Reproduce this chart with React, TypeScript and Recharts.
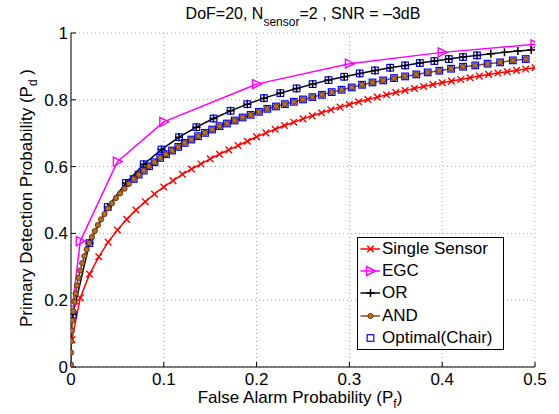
import React from "react";
import {
  ComposedChart,
  Line,
  Scatter,
  XAxis,
  YAxis,
  CartesianGrid,
  Legend,
} from "recharts";

const FONT = "'Liberation Sans', Arial, Helvetica, sans-serif";

const xTicks = [0, 0.1, 0.2, 0.3, 0.4, 0.5];
const yTicks = [0, 0.2, 0.4, 0.6, 0.8, 1];

// single sensor ROC
const singlePf = [
  0.001, 0.01, 0.02, 0.03, 0.04, 0.05, 0.06, 0.07, 0.08, 0.09, 0.1, 0.11, 0.12,
  0.13, 0.14, 0.15, 0.16, 0.17, 0.18, 0.19, 0.2, 0.21, 0.22, 0.23, 0.24, 0.25,
  0.26, 0.27, 0.28, 0.29, 0.3, 0.31, 0.32, 0.33, 0.34, 0.35, 0.36, 0.37, 0.38,
  0.39, 0.4, 0.41, 0.42, 0.43, 0.44, 0.45, 0.46, 0.47, 0.48, 0.49, 0.5,
];
const singlePd = [
  0.082, 0.207, 0.278, 0.33, 0.374, 0.41, 0.442, 0.47, 0.495, 0.518, 0.539,
  0.558, 0.577, 0.593, 0.608, 0.623, 0.637, 0.65, 0.663, 0.676, 0.689, 0.701,
  0.712, 0.723, 0.733, 0.743, 0.752, 0.761, 0.77, 0.778, 0.786, 0.794, 0.801,
  0.808, 0.815, 0.822, 0.828, 0.834, 0.84, 0.846, 0.851, 0.856, 0.861, 0.866,
  0.871, 0.876, 0.88, 0.884, 0.888, 0.892, 0.896,
];

// equal gain combining
const egcPf = [0.002, 0.01, 0.05, 0.1, 0.2, 0.3, 0.4, 0.5];
const egcPd = [0.19, 0.377, 0.615, 0.734, 0.847, 0.908, 0.942, 0.966];

// OR rule
const orPf = [
  0.002, 0.0199, 0.0396, 0.0591, 0.0784, 0.0975, 0.1164, 0.1351, 0.1536, 0.1719,
  0.19, 0.2079, 0.2256, 0.2431, 0.2604, 0.2775, 0.2944, 0.3111, 0.3276, 0.3439,
  0.36, 0.3759, 0.3916, 0.4071, 0.4224, 0.4375, 0.4524, 0.4671, 0.4816, 0.4959,
];
const orPd = [
  0.157, 0.371, 0.479, 0.551, 0.607, 0.651, 0.688, 0.718, 0.744, 0.767, 0.787,
  0.805, 0.82, 0.834, 0.847, 0.859, 0.869, 0.879, 0.888, 0.896, 0.903, 0.91,
  0.916, 0.922, 0.928, 0.933, 0.938, 0.942, 0.946, 0.949,
];

// AND rule
const andPf = [
  0.000001, 0.0001, 0.0004, 0.0009, 0.0016, 0.0025, 0.0036, 0.0049, 0.0064,
  0.0081, 0.01, 0.0121, 0.0144, 0.0169, 0.0196, 0.0225, 0.0256, 0.0289, 0.0324,
  0.0361, 0.04, 0.0441, 0.0484, 0.0529, 0.0576, 0.0625, 0.0676, 0.0729, 0.0784,
  0.0841, 0.09, 0.0961, 0.1024, 0.1089, 0.1156, 0.1225, 0.1296, 0.1369, 0.1444,
  0.1521, 0.16, 0.1681, 0.1764, 0.1849, 0.1936, 0.2025, 0.2116, 0.2209, 0.2304,
  0.2401, 0.25, 0.2601, 0.2704, 0.2809, 0.2916, 0.3025, 0.3136, 0.3249, 0.3364,
  0.3481, 0.36, 0.3721, 0.3844, 0.3969, 0.4096, 0.4225, 0.4356, 0.4489, 0.4624,
  0.4761, 0.49,
];
const andPd = [
  0.007, 0.043, 0.077, 0.109, 0.139, 0.167, 0.195, 0.22, 0.244, 0.267, 0.289,
  0.311, 0.332, 0.352, 0.371, 0.389, 0.407, 0.425, 0.442, 0.458, 0.475, 0.49,
  0.506, 0.52, 0.534, 0.549, 0.563, 0.576, 0.588, 0.601, 0.613, 0.626, 0.637,
  0.648, 0.659, 0.671, 0.681, 0.691, 0.701, 0.711, 0.721, 0.729, 0.738, 0.747,
  0.755, 0.764, 0.773, 0.78, 0.787, 0.794, 0.801, 0.808, 0.815, 0.823, 0.83,
  0.837, 0.845, 0.852, 0.858, 0.865, 0.87, 0.876, 0.882, 0.887, 0.893, 0.899,
  0.903, 0.908, 0.912, 0.918, 0.922,
];

const seriesNames = ["Single Sensor", "EGC", "OR", "AND", "Optimal(Chair)"];

const RED = "#ff0000";
const MAGENTA = "#ff00ff";
const BLACK = "#000000";
const BROWN = "#8c4a12";
const BLUE = "#0000ff";

const toPoints = (xs: number[], ys: number[]) =>
  xs.map((x, i) => ({ x, y: ys[i] }));

const singleData = toPoints(singlePf, singlePd);
const egcData = toPoints(egcPf, egcPd);
const orData = toPoints(orPf, orPd);
const andData = toPoints(andPf, andPd);
// optimal fusion follows OR at low thresholds, then AND
const optimalData = [...orData.slice(0, 26), ...andData.slice(26)];

type Kind = "x" | "tri" | "plus" | "circle" | "square";

function marker(kind: Kind, cx: number, cy: number, key?: string | number) {
  if (cx == null || cy == null || isNaN(cx) || isNaN(cy)) return <g key={key} />;
  if (kind === "x") {
    const s = 3.3;
    return (
      <path
        key={key}
        d={`M${cx - s},${cy - s}L${cx + s},${cy + s}M${cx - s},${cy + s}L${cx + s},${cy - s}`}
        stroke={RED}
        strokeWidth={1.4}
        fill="none"
      />
    );
  }
  if (kind === "tri") {
    return (
      <polygon
        key={key}
        points={`${cx - 4},${cy - 4.5} ${cx - 4},${cy + 4.5} ${cx + 5},${cy}`}
        stroke={MAGENTA}
        strokeWidth={1.4}
        fill="none"
      />
    );
  }
  if (kind === "plus") {
    const s = 4;
    return (
      <path
        key={key}
        d={`M${cx - s},${cy}L${cx + s},${cy}M${cx},${cy - s}L${cx},${cy + s}`}
        stroke={BLACK}
        strokeWidth={1.5}
        fill="none"
      />
    );
  }
  if (kind === "circle") {
    return (
      <circle key={key} cx={cx} cy={cy} r={2.6} fill="#b0702e" stroke="#6e3608" strokeWidth={1} />
    );
  }
  return (
    <rect
      key={key}
      x={cx - 3.3}
      y={cy - 3.3}
      width={6.6}
      height={6.6}
      stroke={BLUE}
      strokeWidth={1.2}
      fill="none"
    />
  );
}

const dotOf = (kind: Kind) => (p: any) => marker(kind, p.cx, p.cy, `${kind}-${p.index}`);

const legendEntries: { name: string; kind: Kind; color: string | null }[] = [
  { name: seriesNames[0], kind: "x", color: RED },
  { name: seriesNames[1], kind: "tri", color: MAGENTA },
  { name: seriesNames[2], kind: "plus", color: BLACK },
  { name: seriesNames[3], kind: "circle", color: BROWN },
  { name: seriesNames[4], kind: "square", color: null },
];

function LegendBox() {
  return (
    <div
      style={{
        width: 145,
        height: 111,
        border: "1px solid #000",
        background: "#fff",
        fontFamily: FONT,
        fontSize: 17,
        color: "#000",
      }}
    >
      {legendEntries.map((e) => (
        <div
          key={e.name}
          style={{ display: "flex", alignItems: "center", height: 22.2 }}
        >
          <svg width={24} height={22} style={{ flex: "none" }}>
            {e.color && (
              <line x1={2.5} y1={11} x2={22} y2={11} stroke={e.color} strokeWidth={1.5} />
            )}
            {marker(e.kind, 12.5, 11)}
          </svg>
          <span style={{ whiteSpace: "nowrap", lineHeight: "22px" }}>{e.name}</span>
        </div>
      ))}
    </div>
  );
}

const tickStyle = { fill: "#000", fontSize: 17, fontFamily: FONT };

export default function App() {
  return (
    <div
      style={{
        position: "absolute",
        left: 0,
        top: 0,
        width: 559,
        height: 414,
        background: "#fff",
      }}
    >
      <ComposedChart
        width={559}
        height={414}
        margin={{ top: 33, right: 24, bottom: 0, left: 0 }}
      >
        <CartesianGrid stroke="#a8a8a8" strokeDasharray="1 3" />
        <XAxis
          dataKey="x"
          type="number"
          domain={[0, 0.5]}
          ticks={xTicks}
          interval={0}
          allowDataOverflow
          height={47}
          tickSize={-5}
          tickMargin={11}
          tick={tickStyle}
          tickLine={{ stroke: "#000" }}
          axisLine={{ stroke: "#000" }}
          tickFormatter={(v) => String(v)}
        />
        <XAxis
          xAxisId="top"
          orientation="top"
          dataKey="x"
          type="number"
          domain={[0, 0.5]}
          ticks={xTicks}
          interval={0}
          allowDataOverflow
          height={0}
          tickSize={-5}
          tick={false}
          tickLine={{ stroke: "#000" }}
          axisLine={{ stroke: "#000" }}
        />
        <YAxis
          type="number"
          domain={[0, 1]}
          ticks={yTicks}
          interval={0}
          allowDataOverflow
          width={71}
          tickSize={-5}
          tickMargin={8}
          tick={tickStyle}
          tickLine={{ stroke: "#000" }}
          axisLine={{ stroke: "#000" }}
          tickFormatter={(v) => String(v)}
        />
        <YAxis
          yAxisId="right"
          orientation="right"
          type="number"
          domain={[0, 1]}
          ticks={yTicks}
          interval={0}
          allowDataOverflow
          width={0}
          tickSize={-5}
          tick={false}
          tickLine={{ stroke: "#000" }}
          axisLine={{ stroke: "#000" }}
        />
        <Line
          data={singleData}
          dataKey="y"
          name={seriesNames[0]}
          type="linear"
          stroke={RED}
          strokeWidth={1.5}
          dot={dotOf("x")}
          activeDot={false}
          isAnimationActive={false}
        />
        <Line
          data={egcData}
          dataKey="y"
          name={seriesNames[1]}
          type="linear"
          stroke={MAGENTA}
          strokeWidth={1.5}
          dot={dotOf("tri")}
          activeDot={false}
          isAnimationActive={false}
        />
        <Line
          data={orData}
          dataKey="y"
          name={seriesNames[2]}
          type="linear"
          stroke={BLACK}
          strokeWidth={1.5}
          dot={dotOf("plus")}
          activeDot={false}
          isAnimationActive={false}
        />
        <Line
          data={andData}
          dataKey="y"
          name={seriesNames[3]}
          type="linear"
          stroke={BROWN}
          strokeWidth={1.5}
          dot={dotOf("circle")}
          activeDot={false}
          isAnimationActive={false}
        />
        <Scatter
          data={optimalData}
          dataKey="y"
          name={seriesNames[4]}
          shape={(p: any) => marker("square", p.cx, p.cy)}
          isAnimationActive={false}
        />
        <Legend
          layout="vertical"
          align="center"
          verticalAlign="middle"
          wrapperStyle={{ left: 357, top: 237, width: 147, height: 113 }}
          content={() => <LegendBox />}
        />
      </ComposedChart>
      <svg
        width={559}
        height={414}
        style={{ position: "absolute", left: 0, top: 0, pointerEvents: "none" }}
        fontFamily={FONT}
        fill="#000"
      >
        <text x={303} y={18.5} textAnchor="middle" fontSize={16}>
          <tspan>DoF=20, N</tspan>
          <tspan dy={7} fontSize={12}>sensor</tspan>
          <tspan dy={-7}>=2 , SNR = –3dB</tspan>
        </text>
        <text x={300} y={403} textAnchor="middle" fontSize={17}>
          <tspan>False Alarm Probability (P</tspan>
          <tspan dy={5} fontSize={12}>f</tspan>
          <tspan dy={-5}>)</tspan>
        </text>
        <text
          transform="translate(32,198) rotate(-90)"
          x={0}
          y={0}
          textAnchor="middle"
          fontSize={17}
        >
          <tspan>Primary Detection Probability (P</tspan>
          <tspan dy={5} fontSize={12}>d</tspan>
          <tspan dy={-5}> )</tspan>
        </text>
      </svg>
    </div>
  );
}
